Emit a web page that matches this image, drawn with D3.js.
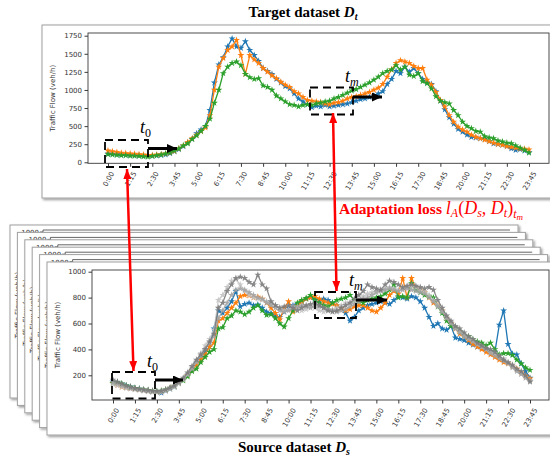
<!DOCTYPE html>
<html><head><meta charset="utf-8">
<script src="https://cdn.jsdelivr.net/npm/d3@7/dist/d3.min.js"></script>
<style>body{margin:0;background:#fff}svg{display:block}</style>
</head><body>
<svg id="c" width="550" height="459"></svg>
<script>
// ---------- data ----------
const tickLabels = ["0:00","1:15","2:30","3:45","5:00","6:15","7:30","8:45","10:00","11:15","12:30","13:45","15:00","16:15","17:30","18:45","20:00","21:15","22:30","23:45"];
const slotCount = 96; // 15-min slots 0:00 .. 23:45

const topBlue = [120,118,112,108,105,100,98,95,92,90, 88,92,98,108,125,150,180,220,270,320,
 400,450,500,720,1100,1350,1450,1600,1710,1600, 1580,1670,1550,1480,1400,1300,1260,1220,1150,1100,
 1050,1020,950,880,840,800,760,780,770,790, 770,780,790,800,810,830,850,870,880,900,
 920,950,980,1080,1150,1260,1230,1320,1250,1300, 1230,1150,1100,1080,980,850,730,620,530,460,
 420,380,350,340,330,320,290,260,250,240, 220,190,170,180,160,140];
const topOrange = [160,150,140,130,125,120,115,110,105,100, 100,105,110,120,135,155,190,230,280,330,
 380,430,480,650,1000,1320,1440,1550,1600,1690, 1480,1220,1480,1420,1370,1300,1250,1200,1160,1110,
 1070,1040,980,950,900,860,850,840,830,810, 800,820,830,850,880,900,910,930,950,970,
 1000,1030,1080,1180,1280,1370,1410,1390,1370,1330, 1300,1300,1140,1070,970,860,770,650,560,490,
 450,420,380,350,330,310,290,270,250,240, 220,210,200,190,185,175];
const topGreen = [110,105,100,95,95,90,88,85,80,75, 85,95,105,120,135,160,190,230,260,320,
 370,430,500,600,820,1000,1230,1320,1370,1390, 1340,1220,1175,1150,1160,1060,1040,1000,920,880,
 840,800,790,770,790,800,790,810,820,840, 850,880,900,930,960,990,1010,1040,1070,1100,
 1140,1180,1230,1260,1280,1340,1280,1320,1210,1190, 1230,1120,1090,1020,910,850,830,810,720,650,
 560,500,470,430,420,360,340,330,300,285, 270,260,230,200,170,130];

const srcBlue = [150,145,130,120,110,100,95,85,80,75, 70,65,80,95,110,140,170,200,240,290,
 330,380,420,560,700,680,720,770,850,730, 750,760,740,745,720,690,680,660,650,690,
 720,740,750,770,790,800,790,780,790,780, 760,740,720,680,620,650,700,720,740,750,
 760,770,760,750,780,810,800,790,810,800, 770,720,650,580,600,560,550,580,490,480,
 470,450,435,420,410,395,385,380,590,700, 440,365,360,290,230,180];
const srcOrange = [140,125,110,105,100,95,90,85,80,75, 70,75,85,100,115,140,165,200,240,280,
 320,360,420,450,620,640,680,720,760,810, 820,815,800,805,790,760,720,680,630,720,
 770,690,740,770,790,800,810,790,770,760, 750,740,720,700,710,730,740,740,720,700,
 690,720,760,820,850,830,950,800,950,870, 860,840,800,760,740,700,640,600,560,520,
 500,470,440,420,400,380,360,340,320,300, 290,270,250,220,195,175];
const srcGreen = [140,145,135,120,110,100,95,90,85,80, 75,80,90,100,115,140,160,190,230,250,
 300,340,380,400,560,570,640,660,700,690, 670,690,720,740,700,665,670,640,600,575,
 640,700,760,780,795,820,780,760,740,730, 760,780,790,800,820,780,770,760,780,790,
 800,810,830,860,900,800,810,800,910,860, 840,820,810,800,730,680,620,580,570,540,
 510,500,475,460,450,430,450,400,360,370, 370,355,320,290,260,240];
const srcGrayDark = [165,150,135,120,110,100,95,90,85,80, 78,80,90,105,120,150,180,220,270,320,
 360,400,460,520,720,760,850,900,950,960, 950,920,900,975,900,870,770,740,720,730,
 740,720,700,720,740,750,760,740,720,700, 690,700,720,740,760,790,820,850,900,880,
 870,860,900,930,920,900,880,890,900,890, 880,870,880,860,780,720,660,620,580,560,
 530,500,480,450,430,410,400,380,350,320, 300,280,250,230,200,150];
const srcGrayMid = [145,135,120,110,100,95,90,85,80,75, 72,75,85,100,115,140,170,210,250,300,
 350,400,450,500,640,700,760,820,860,870, 860,840,820,800,790,760,740,720,700,690,
 700,720,730,740,730,720,740,730,720,710, 700,690,700,710,730,750,770,790,800,820,
 840,850,860,870,860,850,860,870,860,850, 840,830,800,770,730,690,640,600,560,530,
 500,480,460,440,420,400,370,350,330,310, 290,260,230,210,180,155];
const srcGrayLight = [130,120,110,100,95,90,85,80,75,70, 68,72,80,95,110,135,165,205,260,310,
 370,430,480,550,780,820,880,930,940,900, 850,820,800,790,780,770,760,740,720,700,
 710,730,720,700,710,730,720,700,690,700, 710,720,740,760,760,770,790,810,830,840,
 850,860,870,880,870,860,870,880,890,880, 860,840,820,780,740,700,650,610,570,540,
 510,490,470,440,420,400,380,370,350,330, 300,270,240,210,180,160];

const topTicks = [0,250,500,750,1000,1250,1500,1750];
const srcTicks = [200,400,600,800,1000];

// ---------- helpers ----------
const svg = d3.select("#c");
const defs = svg.append("defs");
const f = defs.append("filter").attr("id","sh").attr("x","-5%").attr("y","-5%").attr("width","112%").attr("height","115%");
f.append("feDropShadow").attr("dx",1.5).attr("dy",1.5).attr("stdDeviation",1.3).attr("flood-color","#000").attr("flood-opacity",0.4);

function mk(id, color, len, wid){
  defs.append("marker").attr("id",id).attr("markerUnits","userSpaceOnUse")
    .attr("viewBox",`0 0 ${len} ${wid}`).attr("refX",len).attr("refY",wid/2)
    .attr("markerWidth",len).attr("markerHeight",wid).attr("orient","auto-start-reverse")
    .append("path").attr("d",`M0,0L${len},${wid/2}L0,${wid}Z`).attr("fill",color);
}
mk("redHead","#ff0000",10,8);
mk("blkHead","#000",10,9);

const tickIndex = s => { const [h,m] = s.split(":").map(Number); return h*4 + m/15; };
const FONT = "DejaVu Sans";

function panel(x,y,w){
  return svg.append("rect").attr("x",x).attr("y",y).attr("width",w).attr("height",173)
    .attr("fill","#fff").attr("stroke","#a0a0a0").attr("stroke-width",1).attr("filter","url(#sh)");
}

function chart(g, x, y, yTicks, box, yLabelX, series){
  series.forEach(s => {
    const gg = g.append("g").attr("opacity",s.op||1);
    gg.append("path").datum(s.values)
      .attr("d", d3.line().x((d,i)=>x(i)).y(d=>y(d)))
      .attr("fill","none").attr("stroke",s.color).attr("stroke-width",1.3);
    gg.selectAll("path.m").data(s.values).join("path").attr("class","m")
      .attr("transform",(d,i)=>`translate(${x(i)},${y(d)})`)
      .attr("d", d3.symbol(d3.symbolStar, 15)())
      .attr("fill",s.color);
  });
  g.append("rect").attr("x",box[0]).attr("y",box[1]).attr("width",box[2]-box[0]).attr("height",box[3]-box[1])
    .attr("fill","none").attr("stroke","#3a3a3a").attr("stroke-width",0.9);
  const ya = g.append("g").attr("transform",`translate(${box[0]},0)`)
    .call(d3.axisLeft(y).tickValues(yTicks).tickFormat(d3.format("d")).tickSize(3.5).tickPadding(2.5));
  ya.select(".domain").remove();
  ya.selectAll("line").attr("stroke","#3a3a3a");
  ya.selectAll("text").attr("font-family",FONT).attr("font-size",7).attr("fill","#333");
  const xa = g.append("g").attr("transform",`translate(0,${box[3]})`)
    .call(d3.axisBottom(x).tickValues(tickLabels.map(tickIndex)).tickFormat((d,i)=>tickLabels[i]).tickSize(3.5).tickPadding(3));
  xa.select(".domain").remove();
  xa.selectAll("line").attr("stroke","#3a3a3a");
  xa.selectAll("text").attr("font-family",FONT).attr("font-size",7).attr("fill","#333")
    .attr("text-anchor","middle").attr("y",0).attr("dy","0.35em")
    .each(function(){
      const L = this.getComputedTextLength();
      const H = L*Math.sin(Math.PI/3) + 7*Math.cos(Math.PI/3);
      d3.select(this).attr("transform",`translate(0,${7 + H/2}) rotate(-60)`);
    });
  g.append("text").attr("transform",`translate(${yLabelX},${(box[1]+box[3])/2}) rotate(-90)`)
    .attr("text-anchor","middle").attr("dy","0.35em").attr("font-family",FONT).attr("font-size",7).attr("fill","#333")
    .text("Traffic Flow (veh/h)");
}

// ---------- top panel ----------
svg.append("text").attr("x",303).attr("y",17).attr("text-anchor","middle")
  .attr("font-family","Liberation Serif").attr("font-weight","bold").attr("font-size",15)
  .call(t=>{ t.append("tspan").text("Target dataset ");
    t.append("tspan").attr("font-style","italic").text("D");
    t.append("tspan").attr("font-style","italic").attr("font-size",10).attr("dy",3).text("t"); });

panel(42,25,530);
const xT = d3.scaleLinear().domain([0,slotCount-1]).range([108,529]);
const yT = d3.scaleLinear().domain([0,1750]).range([162.3,35.7]);
chart(svg.append("g"), xT, yT, topTicks, [88,33,549,163.3], 53, [
  {values:topBlue,color:"#1f77b4"},{values:topOrange,color:"#ff7f0e"},{values:topGreen,color:"#2ca02c"}]);

// ---------- stacked source panels ----------
for(let k=5;k>=1;k--){
  const px = 47-7.4*k, py = 262-7.4*k;
  panel(px,py,508);
  svg.append("line").attr("x1",px+33).attr("x2",px+500).attr("y1",py+5).attr("y2",py+5).attr("stroke","#555").attr("stroke-width",0.9);
  svg.append("line").attr("x1",px+33).attr("x2",px+33).attr("y1",py+5).attr("y2",py+140).attr("stroke","#555").attr("stroke-width",0.9);
  svg.append("line").attr("x1",px+30).attr("x2",px+33).attr("y1",py+7).attr("y2",py+7).attr("stroke","#555").attr("stroke-width",0.9);
  svg.append("text").attr("x",px+29).attr("y",py+10).attr("text-anchor","end").attr("font-family",FONT).attr("font-size",7).attr("fill","#333").text("1000");
  svg.append("text").attr("transform",`translate(${px+8},${py+80}) rotate(-90)`).attr("text-anchor","middle")
    .attr("dy","0.35em").attr("font-family",FONT).attr("font-size",7).attr("fill","#333").text("Traffic Flow (veh/h)");
}
panel(47,262,530);
const xS = d3.scaleLinear().domain([0,slotCount-1]).range([113,530]);
const yS = d3.scaleLinear().domain([0,1000]).range([401.2,271.7]);
chart(svg.append("g"), xS, yS, srcTicks, [92,270,549,400], 58, [
  {values:srcBlue,color:"#1f77b4"},{values:srcOrange,color:"#ff7f0e"},{values:srcGreen,color:"#2ca02c"},
  {values:srcGrayLight,color:"#c4c4c4",op:0.9},{values:srcGrayMid,color:"#a3a3a3",op:0.9},{values:srcGrayDark,color:"#7c7c7c",op:0.9}]);

svg.append("text").attr("x",294).attr("y",452).attr("text-anchor","middle")
  .attr("font-family","Liberation Serif").attr("font-weight","bold").attr("font-size",15)
  .call(t=>{ t.append("tspan").text("Source dataset ");
    t.append("tspan").attr("font-style","italic").text("D");
    t.append("tspan").attr("font-style","italic").attr("font-size",10).attr("dy",3).text("s"); });

// ---------- dashed windows & arrows ----------
function win(x0,y0,x1,y1, ax0, ay, ax1, lx, ly, sub){
  svg.append("rect").attr("x",x0).attr("y",y0).attr("width",x1-x0).attr("height",y1-y0)
    .attr("fill","none").attr("stroke","#000").attr("stroke-width",1.8).attr("stroke-dasharray","8,5");
  svg.append("line").attr("x1",ax0).attr("y1",ay).attr("x2",ax1).attr("y2",ay)
    .attr("stroke","#000").attr("stroke-width",3).attr("marker-end","url(#blkHead)");
  const t = svg.append("text").attr("x",lx).attr("y",ly).attr("font-family","Liberation Serif").attr("font-size",18);
  t.append("tspan").attr("font-style","italic").text("t");
  t.append("tspan").attr("font-size",12).attr("dy",4).attr("font-style", sub==="0"?"normal":"italic").text(sub);
}
win(105,140,148,167, 148,148.5,177, 140,133,"0");
win(310,87.5,353,114.5, 353,97,382, 345,82,"m");
win(112,372,155,398.5, 155,380,183, 147,367,"0");
win(315,292,356,318, 356,300,387, 349,286,"m");

svg.append("line").attr("x1",127).attr("y1",169).attr("x2",133.5).attr("y2",371)
  .attr("stroke","#ff0000").attr("stroke-width",2.5).attr("marker-start","url(#redHead)").attr("marker-end","url(#redHead)");
svg.append("line").attr("x1",333).attr("y1",113).attr("x2",336.5).attr("y2",291)
  .attr("stroke","#ff0000").attr("stroke-width",2.5).attr("marker-start","url(#redHead)").attr("marker-end","url(#redHead)");

const al = svg.append("text").attr("x",339).attr("y",214).attr("fill","#ff0000").attr("font-family","Liberation Serif").attr("font-size",15.5);
al.append("tspan").attr("font-weight","bold").text("Adaptation loss ");
al.append("tspan").attr("font-style","italic").attr("font-size",18).text("l");
al.append("tspan").attr("font-style","italic").attr("font-size",12).attr("dy",3).text("A");
al.append("tspan").attr("font-size",18).attr("dy",-3).text("(");
al.append("tspan").attr("font-style","italic").attr("font-size",18).text("D");
al.append("tspan").attr("font-style","italic").attr("font-size",12).attr("dy",3).text("s");
al.append("tspan").attr("font-size",18).attr("dy",-3).text(", ");
al.append("tspan").attr("font-style","italic").attr("font-size",18).text("D");
al.append("tspan").attr("font-style","italic").attr("font-size",12).attr("dy",3).text("t");
al.append("tspan").attr("font-size",18).attr("dy",-3).text(")");
al.append("tspan").attr("font-style","italic").attr("font-size",12).attr("dy",4).text("t");
al.append("tspan").attr("font-style","italic").attr("font-size",9).attr("dy",2).text("m");
</script>
</body></html>
